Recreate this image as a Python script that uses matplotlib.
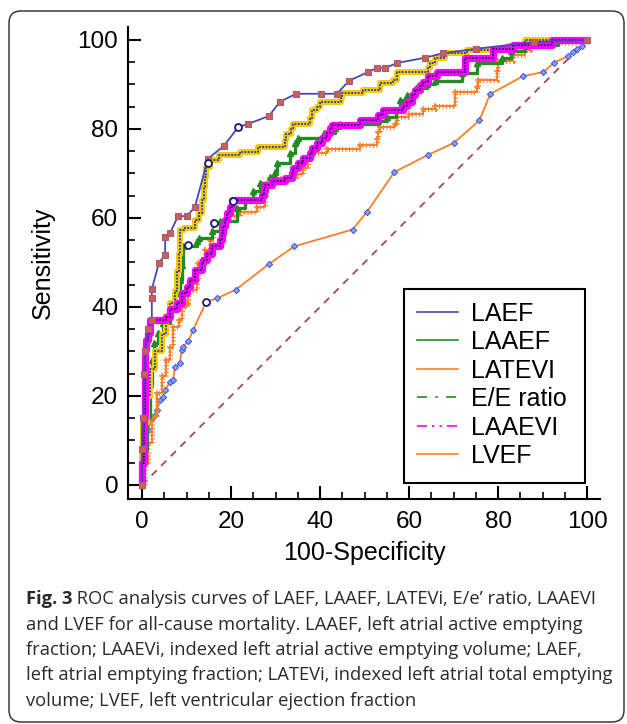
import matplotlib
matplotlib.use('Agg')
import matplotlib.pyplot as plt
from matplotlib.lines import Line2D
from matplotlib.patches import FancyBboxPatch, Rectangle
from matplotlib.transforms import IdentityTransform
from matplotlib.ticker import MultipleLocator

plt.rcParams['font.family'] = ['Liberation Sans', 'DejaVu Sans']

# ROC points (100-Specificity, Sensitivity)
laef_x = [0, 0, 0.3, 0.5, 0.7, 1.3, 2.2, 2.2, 2.2, 3.8, 5.2, 5.2, 6.3, 8.1, 10.1, 11.9,
          14.8, 18.4, 21.6, 23.8, 28.5, 31.0, 34.6, 40.2, 43.8, 46.5, 50.8, 52.8, 54.6,
          57.3, 63.6, 67.6, 75.0, 88.0, 100]
laef_y = [0, 8, 15, 25, 30, 35, 37.1, 42, 44, 49.9, 51.7, 55.7, 56.6, 60.4, 60.4, 62.5,
          73.3, 76.2, 80.4, 81.1, 82.9, 86.1, 87.9, 87.9, 87.9, 90.8, 92.8, 93.7, 93.7,
          94.8, 96.0, 97.0, 98.0, 99.5, 100]

laaef_x = [0, 0, 0.3, 1.1, 1.8, 2.9, 4.4, 5.5, 6.3, 7.4, 7.8, 8.2, 8.5, 9.5, 11.9, 12.7,
           13.4, 14.0, 14.2, 14.4, 15.2, 17.2, 22.0, 26.1, 32.1, 32.4, 33.4, 34.0, 37.8,
           38.2, 39.3, 40.0, 44.8, 45.0, 49.7, 53.5, 56.5, 57.2, 64.3, 64.8, 65.8, 68.0,
           73.0, 82.2, 86.0, 100]
laaef_y = [0, 8, 14, 20, 26, 30, 34, 38, 41, 43.5, 48, 52, 57.3, 57.8, 59.6, 61.1,
           64.1, 67.0, 69.3, 71.5, 73.0, 74.2, 74.9, 76.0, 77.5, 78.8, 80.0, 81.1, 82.4,
           84.3, 85.0, 86.1, 87.0, 88.0, 88.8, 90.4, 91.0, 92.8, 93.6, 94.8, 96.0, 97.0,
           97.7, 98.7, 100, 100]

latevi_x = [0, 0.7, 1.4, 2.2, 3.3, 4.4, 5.5, 6.3, 7.0, 8.2, 8.9, 10.1, 10.4, 11.5, 12.3,
            12.5, 13.4, 14.2, 15.3, 16.0, 16.0, 19.4, 22.0, 25.8, 27.6, 27.8, 28.8, 34.8,
            36.25, 37.4, 38.1, 41.5, 49.0, 52.7, 53.1, 53.5, 56.9, 57.2, 59.9, 63.2, 65.8,
            70.3, 75.2, 75.6, 79.7, 79.9, 83.4, 86.1, 87.2, 97.7, 100]
latevi_y = [0, 4.8, 9.4, 15.3, 20.7, 24.4, 28.1, 31.1, 35.6, 37.1, 40.1, 40.8, 43.8, 43.8,
            46.1, 49.8, 50.6, 52.8, 55.05, 56.55, 59.1, 60.5, 61.3, 62.4, 64.6, 67.6, 69.0,
            69.9, 71.3, 73.6, 74.6, 75.5, 76.4, 77.7, 79.2, 80.4, 81.1, 82.6, 83.4, 84.5,
            85.2, 88.3, 89.4, 91.0, 93.0, 95.3, 96.7, 97.7, 99.4, 100, 100]

ee_x = [0, 0.3, 1.1, 1.8, 2.2, 2.6, 3.7, 4.8, 6.3, 7.4, 8.5, 9.0, 9.3, 12.3, 12.7, 15.7,
        17.5, 21.3, 23.1, 25.0, 26.5, 28.8, 29.9, 30.3, 33.3, 34.4, 35.1, 40.8, 43.4,
        44.5, 53.1, 55.0, 57.0, 58.0, 59.5, 61.5, 64.0, 65.8, 71.8, 75.2, 80.8, 83.0,
        86.1, 93.5, 100]
ee_y = [0, 7.9, 15.3, 22.8, 28.1, 31.8, 34.1, 36.3, 40.8, 43.1, 46.1, 49.5, 53.7, 54.8,
        55.5, 57.0, 59.2, 62.2, 64.1, 66.0, 67.8, 69.3, 70.4, 72.3, 74.5, 76.8, 77.9,
        79.0, 80.2, 81.0, 81.8, 82.6, 84.3, 86.5, 87.6, 89.1, 90.0, 90.8, 92.5, 94.75,
        96.0, 97.4, 98.9, 100, 100]

laaevi_x = [0, 0, 0.4, 0.7, 0.9, 1.4, 1.8, 5.5, 6.3, 7.8, 8.9, 10.1, 10.8, 11.9, 13.4,
            13.8, 14.5, 15.65, 17.5, 17.9, 18.3, 18.6, 19.0, 19.8, 20.15, 26.9, 27.3, 27.6,
            29.1, 32.1, 33.6, 34.0, 35.1, 36.25, 37.75, 38.1, 39.25, 40.4, 41.5, 42.25,
            42.6, 49.0, 53.1, 54.2, 58.7, 59.5, 60.6, 61.3, 62.5, 63.2, 64.3, 66.2, 72.6,
            78.9, 83.4, 92.1, 100]
laaevi_y = [0, 5, 15.3, 30.3, 32.6, 34.1, 37.1, 37.8, 39.5, 40.8, 43.1, 44.5, 46.1, 48.3,
            49.8, 50.6, 52.0, 53.6, 55.05, 56.55, 58.1, 59.5, 61.0, 62.5, 64.0, 65.2, 66.3,
            67.4, 68.2, 69.0, 70.0, 71.2, 72.3, 73.4, 74.5, 75.7, 76.8, 77.9, 79.0, 80.2,
            80.9, 82.0, 83.1, 84.3, 85.2, 86.1, 87.6, 88.8, 89.9, 90.6, 91.8, 92.9, 95.9,
            97.9, 98.9, 100, 100]

lvef_x = [0, 0, 0.3, 0.7, 1.4, 2.2, 2.9, 3.3, 4.05, 4.8, 5.2, 6.3, 7.0, 7.4, 8.5, 8.9,
          9.3, 10.4, 11.5, 14.4, 16.8, 21.1, 28.6, 34.2, 47.3, 50.5, 56.7, 64.3, 70.0,
          75.8, 78.2, 85.5, 90.2, 92.6, 95.8, 96.9, 97.7, 98.8, 100]
lvef_y = [0, 4.1, 7.1, 9.4, 12.4, 15.0, 15.7, 16.8, 19.1, 19.8, 21.3, 23.2, 23.6, 26.4,
          27.3, 30.3, 31.1, 32.4, 34.8, 41.2, 41.9, 43.9, 49.7, 53.6, 57.4, 61.3, 70.3,
          74.2, 76.8, 81.9, 87.8, 91.8, 92.8, 94.9, 96.4, 97.2, 97.9, 98.6, 100]

# optimal criterion points (open circles)
opt_x = [21.6, 14.9, 20.5, 16.2, 10.4, 14.4]
opt_y = [80.4, 72.3, 63.8, 58.9, 53.9, 41.2]

labels = ['LAEF', 'LAAEF', 'LATEVI', 'E/E ratio', 'LAAEVI', 'LVEF']
ticks = [0, 20, 40, 60, 80, 100]

caption_rest = [
    'and LVEF for all-cause mortality. LAAEF, left atrial active emptying',
    'fraction; LAAEVi, indexed left atrial active emptying volume; LAEF,',
    'left atrial emptying fraction; LATEVi, indexed left atrial total emptying',
    'volume; LVEF, left ventricular ejection fraction',
]

fig = plt.figure(figsize=(6.27, 7.24), dpi=100)
ax = fig.add_axes([128 / 627, 225 / 724, 472 / 627, 472 / 724])

ax.plot([0, 100], [0, 100], color='#a34a50', lw=1.3, dashes=(4, 3.5), zorder=1)

# LVEF
ax.plot(lvef_x, lvef_y, color='#ff7f27', lw=1.3, marker='D', ms=3.2,
        mfc='#7fa2ff', mec='#3a55e0', mew=0.7, zorder=2)

# LATEVI (orange crosses)
ax.plot(latevi_x, latevi_y, drawstyle='steps-post', color='#ff7f27', lw=1.4, zorder=3)
ax.plot(latevi_x, latevi_y, drawstyle='steps-post', color='#ff7f27', lw=3.6,
        dashes=(0.2, 0.5), dash_capstyle='butt', zorder=3)
ax.plot(latevi_x, latevi_y, ls='none', marker='+', ms=5, mew=1.1, color='#ff7f27', zorder=3)

# E/E ratio (green triangles)
ax.plot(ee_x, ee_y, drawstyle='steps-post', color='#228b22', lw=2.4, zorder=4)
ax.plot(ee_x, ee_y, ls='none', marker='^', ms=4.5, color='#228b22', zorder=4)

# LAAEF (yellow squares, blue dots)
ax.plot(laaef_x, laaef_y, drawstyle='steps-post', color='#f2cc00', lw=4.3,
        solid_capstyle='butt', zorder=5)
ax.plot(laaef_x, laaef_y, drawstyle='steps-post', color='#2233bb', lw=1.3,
        dashes=(1, 0.8), zorder=5)

# LAAEVI (magenta squares, dark dots)
ax.plot(laaevi_x, laaevi_y, drawstyle='steps-post', color='#ff00ff', lw=5.2,
        solid_capstyle='butt', zorder=6)
ax.plot(laaevi_x, laaevi_y, drawstyle='steps-post', color='#1c1c5a', lw=1.3,
        dashes=(1, 0.8), zorder=6)

# LAEF
ax.plot(laef_x, laef_y, color='#4848b0', lw=1.3, marker='s', ms=4.6,
        mfc='#d0604a', mec='#a25a8c', mew=0.8, zorder=7)

ax.plot(opt_x, opt_y, ls='none', marker='o', ms=5, mfc='white', mec='#1a1a80',
        mew=1.3, zorder=8)

ax.set_xlim(-3.15, 102.9)
ax.set_ylim(-3.15, 102.9)
ax.set_xticks(ticks)
ax.set_yticks(ticks)
ax.xaxis.set_minor_locator(MultipleLocator(5))
ax.yaxis.set_minor_locator(MultipleLocator(5))
ax.tick_params(which='major', direction='in', length=9.5, width=1.5, labelsize=17.5)
ax.tick_params(which='minor', direction='in', length=5, width=1.2)
ax.tick_params(axis='x', which='major', pad=9)
ax.tick_params(axis='y', which='major', pad=7)
for s in ['top', 'right']:
    ax.spines[s].set_visible(False)
for s in ['left', 'bottom']:
    ax.spines[s].set_linewidth(1.5)

ax.set_xlabel('100-Specificity', fontsize=18)
ax.xaxis.set_label_coords(0.5, -0.089)
ax.set_ylabel('Sensitivity', fontsize=18)
ax.yaxis.set_label_coords(-0.155, 0.5)

handles = [
    Line2D([], [], color='#4848b0', lw=1.2),
    Line2D([], [], color='#228b22', lw=1.2),
    Line2D([], [], color='#ff7f27', lw=1.2),
    Line2D([], [], color='#228b22', lw=1.2, dashes=(6, 5, 1.5, 5)),
    Line2D([], [], color='#ff00ff', lw=1.2, dashes=(6, 3, 1.5, 3, 1.5, 3)),
    Line2D([], [], color='#ff7f27', lw=1.2),
]
# legend frame drawn as its own box so its width can match the original
legbox = Rectangle((0.585, 0.0339), 0.3835, 0.411, transform=ax.transAxes,
                   facecolor='white', edgecolor='black', lw=1.5, zorder=9)
ax.add_patch(legbox)
leg = ax.legend(handles, labels, loc='upper left', bbox_to_anchor=(0.585, 0.4449),
                fontsize=18, frameon=False, borderpad=0.5, labelspacing=0.18,
                handlelength=1.64, handletextpad=0.52, borderaxespad=0)
leg.set_zorder(10)

border = FancyBboxPatch((9, 2), 615, 711, boxstyle='round,pad=0,rounding_size=12',
                        transform=IdentityTransform(), fill=False, ec='#3a3a3a', lw=1.1)
fig.patches.append(border)

cap_kw = dict(fontfamily=['Open Sans', 'DejaVu Sans'], fontsize=13.2, color='#2a2a2a')
t1 = fig.text(26 / 627, 1 - 599 / 724, 'Fig. 3', fontweight='bold', va='center', **cap_kw)
ax.annotate(' ROC analysis curves of LAEF, LAAEF, LATEVi, E/e\u2019 ratio, LAAEVI',
            xy=(1, 0), xycoords=t1, va='bottom', ha='left', **cap_kw)
for i, line in enumerate(caption_rest):
    fig.text(26 / 627, 1 - (599 + 25.5 * (i + 1)) / 724, line, va='center', **cap_kw)

fig.savefig('out.png', dpi=100)
